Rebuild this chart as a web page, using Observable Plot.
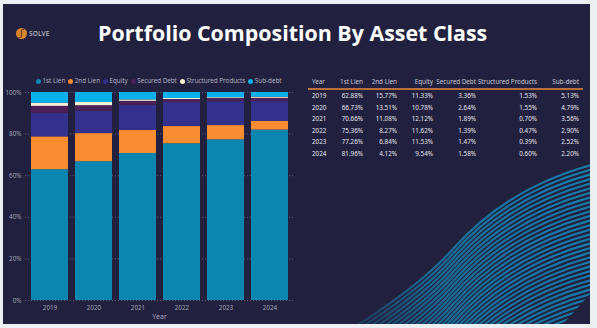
<!DOCTYPE html>
<html><head><meta charset="utf-8">
<script src="https://cdn.jsdelivr.net/npm/d3@7"></script>
<script src="https://cdn.jsdelivr.net/npm/@observablehq/plot@0.6"></script>
<style>
html,body{margin:0;padding:0;}
body{width:597px;height:328px;background:#eeeff2;position:relative;overflow:hidden;font-family:"Open Sans","Noto Sans",sans-serif;}
#panel{position:absolute;left:3px;top:4px;width:587px;height:320px;background:#21213f;overflow:hidden;}
#deco{position:absolute;left:0;top:0;}
#title{position:absolute;top:14px;left:0;white-space:nowrap;color:#fff;font-weight:700;font-size:21px;font-family:"Open Sans",sans-serif;}
#logo{position:absolute;left:13px;top:24px;width:11px;height:11px;border-radius:50%;background:#d9862f;color:#3a2410;font-size:9px;line-height:11px;text-align:center;font-style:italic;font-family:"DejaVu Serif",serif;}
#logotext{position:absolute;left:26px;top:25px;font-size:6.5px;color:#b9b9c6;font-weight:600;letter-spacing:0.1px;}
#legend{position:absolute;left:33px;top:72px;font-size:6.3px;color:#b8b8c8;white-space:nowrap;}
#legend span.item{margin-right:3px;}
#legend span.dot{display:inline-block;width:5px;height:5px;border-radius:50%;margin-right:1.5px;vertical-align:-0.5px;}
#chart{position:absolute;left:-3px;top:82px;}
#table{position:absolute;left:0;top:0;width:587px;height:320px;font-size:6.3px;font-family:"Noto Sans","Open Sans",sans-serif;}
.cell{position:absolute;white-space:nowrap;color:#e4e4ec;}
.hdr{color:#c4c4d2;}
#rule{position:absolute;left:305px;top:84px;width:275px;height:1.5px;background:#b8703e;}
</style></head>
<body>
<div id="panel">
  <svg id="deco" width="587" height="320"></svg>
  <div id="logo">ʃ</div>
  <div id="logotext">SOLVE</div>
  <div id="title">Portfolio Composition By Asset Class</div>
  <div id="legend"></div>
  <div id="chart"></div>
  <div id="table"></div>
  <div id="rule"></div>
</div>
<script>
// ---- data ----
const years = ["2019","2020","2021","2022","2023","2024"];
const seriesNames = ["1st Lien","2nd Lien","Equity","Secured Debt","Structured Products","Sub-debt"];
const firstLien   = [62.88, 66.73, 70.66, 75.36, 77.26, 81.96];
const secondLien  = [15.77, 13.51, 11.08, 8.27, 6.84, 4.12];
const equity      = [11.33, 10.78, 12.12, 11.62, 11.53, 9.54];
const securedDebt = [3.36, 2.64, 1.89, 1.39, 1.47, 1.58];
const structured  = [1.53, 1.55, 0.70, 0.47, 0.39, 0.60];
const subDebt     = [5.13, 4.79, 3.56, 2.90, 2.52, 2.20];
const yTicks = [0, 20, 40, 60, 80, 100];
const colors = ["#0a86b0","#f98b31","#33318b","#4c1f56","#f4f0d4","#06b0ea"];

const seriesValues = [firstLien, secondLien, equity, securedDebt, structured, subDebt];
const rows = [];
seriesNames.forEach((s, si) => years.forEach((y, yi) => rows.push({year: y, series: s, value: seriesValues[si][yi]})));

// ---- legend ----
const lg = document.getElementById("legend");
seriesNames.forEach((s, i) => {
  const it = document.createElement("span"); it.className = "item";
  it.innerHTML = `<span class="dot" style="background:${colors[i]}"></span>${s}`;
  lg.appendChild(it);
});

// ---- chart ----
const plot = Plot.plot({
  width: 300, height: 238,
  marginLeft: 25, marginRight: 7, marginTop: 6, marginBottom: 24,
  style: {background: "transparent", color: "#a8a8b8", fontSize: "6.3px", fontFamily: "Open Sans, sans-serif"},
  x: {domain: years, paddingInner: 0.17, paddingOuter: 0.085, label: "Year", labelAnchor: "center", labelOffset: 18, tickSize: 0, tickPadding: 5},
  y: {domain: [0, 100], ticks: yTicks, tickFormat: d => d + "%", label: null, tickSize: 0, tickPadding: 4},
  color: {domain: seriesNames, range: colors},
  marks: [
    Plot.ruleY(yTicks, {stroke: "#6a6a84", strokeDasharray: "1,2", strokeWidth: 0.8}),
    Plot.barY(rows, {x: "year", y: "value", fill: "series", order: seriesNames})
  ]
});
document.getElementById("chart").appendChild(plot);
plot.querySelectorAll("g[aria-label='x-axis label'] text").forEach(t => { t.style.fontSize = "7px"; t.setAttribute("fill","#b0b0c0"); });

// ---- table ----
const tb = document.getElementById("table");
const colRight = [null, 360, 394, 430, 473, 534, 576];
const yearLeft = 309;
const headerTop = 73, rowTop = 87, rowStep = 11.5;
const headers = ["Year"].concat(seriesNames);
function addCell(text, col, top, cls) {
  const d = document.createElement("div");
  d.className = "cell " + (cls || "");
  d.textContent = text;
  d.style.top = top + "px";
  if (col === 0) d.style.left = yearLeft + "px";
  else d.style.right = (587 - colRight[col]) + "px";
  tb.appendChild(d);
}
headers.forEach((h, c) => addCell(h, c, headerTop, "hdr"));
years.forEach((y, r) => {
  addCell(y, 0, rowTop + r * rowStep);
  seriesValues.forEach((arr, c) => addCell(arr[r].toFixed(2) + "%", c + 1, rowTop + r * rowStep));
});

// ---- title fit ----
const title = document.getElementById("title");
const tw = title.offsetWidth;
title.style.fontSize = (21 * 389 / tw) + "px";
title.style.left = "95px";

// ---- decoration stripes ----
const deco = d3.select("#deco");
const defs = deco.append("defs");
const grad = defs.append("linearGradient").attr("id","fade").attr("gradientUnits","userSpaceOnUse")
  .attr("x1", 587).attr("y1", 160).attr("x2", 150).attr("y2", 320);
grad.append("stop").attr("offset", 0).attr("stop-color", "#1783b0").attr("stop-opacity", 0.95);
grad.append("stop").attr("offset", 0.4).attr("stop-color", "#1783b0").attr("stop-opacity", 0.75);
grad.append("stop").attr("offset", 0.62).attr("stop-color", "#1783b0").attr("stop-opacity", 0.18);
grad.append("stop").attr("offset", 1).attr("stop-color", "#1783b0").attr("stop-opacity", 0.0);
defs.append("clipPath").attr("id","dclip").append("path")
  .attr("d","M587,156 L587,290 L560,320 L0,320 L0,156 Z");
const g = deco.append("g").attr("clip-path","url(#dclip)");
for (let k = 0; k < 34; k++) {
  const dy = k * 4.6;
  g.append("path")
    .attr("d", `M600,${158+dy} C540,${172+dy} 490,${200+dy} 450,${245+dy} S330,${340+dy} 250,${380+dy}`)
    .attr("fill","none").attr("stroke","url(#fade)").attr("stroke-width", 2.2);
}
</script>
</body></html>
